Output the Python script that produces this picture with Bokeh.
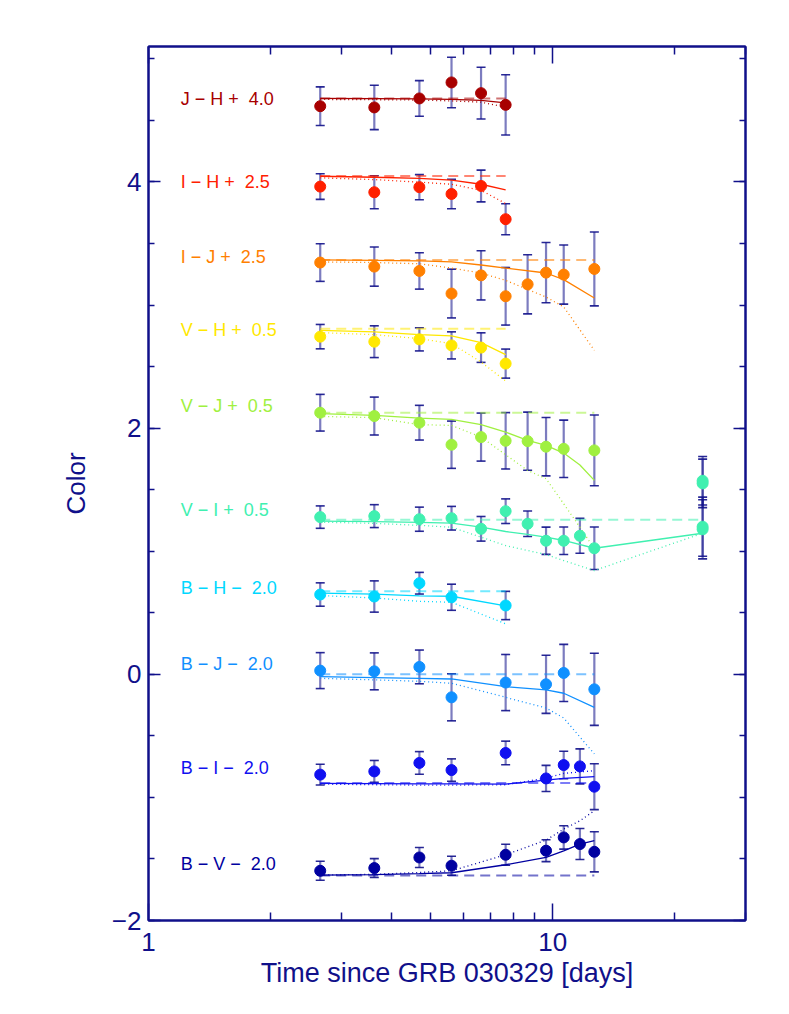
import numpy as np
from bokeh.plotting import figure
from bokeh.models import (Range1d, FixedTicker, LogAxis, LinearAxis, Whisker, TeeHead,
                          ColumnDataSource, CustomJSTickFormatter)
from bokeh.core.properties import value
from bokeh.embed import file_html
from bokeh.resources import INLINE

# ---------------- data (days since GRB 030329, colour indices) ----------------
# J - H + 4.0
jh_t = [2.66, 3.62, 4.68, 5.62, 6.65, 7.65]
jh_v = [4.615, 4.605, 4.678, 4.808, 4.721, 4.626]
jh_e = [0.157, 0.180, 0.145, 0.205, 0.210, 0.245]
jh_mt = [2.66, 3.62, 4.68, 5.62, 6.65, 7.65]
jh_solid = [4.678, 4.677, 4.675, 4.670, 4.662, 4.642]
jh_dot = [4.670, 4.668, 4.665, 4.658, 4.648, 4.607]
jh_const = 4.678

# I - H + 2.5
ih_t = [2.66, 3.62, 4.68, 5.62, 6.65, 7.65]
ih_v = [3.962, 3.916, 3.957, 3.902, 3.967, 3.697]
ih_e = [0.104, 0.134, 0.102, 0.120, 0.129, 0.126]
ih_mt = [2.66, 3.62, 4.68, 5.62, 6.65, 7.65]
ih_solid = [4.046, 4.038, 4.028, 4.014, 3.981, 3.935]
ih_dot = [4.033, 4.019, 3.998, 3.981, 3.932, 3.824]
ih_const = 4.049

# I - J + 2.5
ij_t = [2.66, 3.62, 4.68, 5.62, 6.65, 7.65, 8.67, 9.63, 10.65, 12.68]
ij_v = [3.345, 3.312, 3.277, 3.093, 3.241, 3.071, 3.168, 3.263, 3.247, 3.293]
ij_e = [0.153, 0.159, 0.148, 0.198, 0.200, 0.234, 0.240, 0.245, 0.240, 0.300]
ij_mt = [2.66, 3.62, 4.68, 5.62, 6.65, 7.65, 9.63, 10.65, 12.68]
ij_solid = [3.366, 3.363, 3.358, 3.350, 3.325, 3.300, 3.260, 3.206, 3.057]
ij_dot = [3.350, 3.345, 3.335, 3.300, 3.260, 3.200, 3.065, 2.984, 2.632]
ij_const = 3.366

# V - H + 0.5
vh_t = [2.66, 3.62, 4.68, 5.62, 6.65, 7.65]
vh_v = [2.743, 2.702, 2.721, 2.672, 2.654, 2.524]
vh_e = [0.099, 0.129, 0.094, 0.110, 0.120, 0.118]
vh_mt = [2.66, 3.62, 4.68, 5.62, 6.65, 7.65]
vh_solid = [2.794, 2.781, 2.759, 2.750, 2.694, 2.597]
vh_dot = [2.776, 2.759, 2.727, 2.686, 2.537, 2.382]
vh_const = 2.808

# V - J + 0.5
vj_t = [2.66, 3.62, 4.68, 5.62, 6.65, 7.65, 8.67, 9.63, 10.65, 12.68]
vj_v = [2.125, 2.098, 2.044, 1.865, 1.927, 1.897, 1.894, 1.849, 1.832, 1.819]
vj_e = [0.149, 0.154, 0.141, 0.192, 0.195, 0.229, 0.236, 0.237, 0.233, 0.287]
vj_mt = [2.66, 3.62, 4.68, 5.62, 6.65, 7.65, 8.67, 9.63, 10.65, 11.68, 12.68]
vj_solid = [2.117, 2.103, 2.081, 2.071, 2.028, 1.967, 1.900, 1.859, 1.797, 1.700, 1.575]
vj_dot = [2.095, 2.085, 2.028, 2.022, 1.927, 1.784, 1.656, 1.589, 1.385, 1.195, 1.020]
vj_const = 2.125

# V - I + 0.5
vi_t = [2.66, 3.62, 4.68, 5.62, 6.65, 7.65, 8.67, 9.63, 10.65, 11.68, 12.68, 23.5, 23.5, 23.5, 23.5]
vi_v = [1.277, 1.285, 1.260, 1.268, 1.182, 1.325, 1.223, 1.085, 1.085, 1.125, 1.024,
        1.572, 1.551, 1.199, 1.178]
vi_e = [0.091, 0.093, 0.098, 0.096, 0.100, 0.100, 0.104, 0.111, 0.112, 0.142, 0.173,
        0.197, 0.197, 0.240, 0.240]
vi_mt = [2.66, 3.62, 4.68, 5.62, 6.65, 7.65, 8.67, 9.63, 10.65, 12.68, 23.5]
vi_solid = [1.244, 1.240, 1.235, 1.228, 1.195, 1.160, 1.136, 1.114, 1.087, 1.024, 1.146]
vi_dot = [1.236, 1.226, 1.210, 1.195, 1.114, 1.046, 1.006, 0.973, 0.924, 0.843, 1.146]
vi_const = 1.255

# B - H - 2.0
bh_t = [2.66, 3.62, 4.68, 5.62, 7.65]
bh_v = [0.648, 0.632, 0.740, 0.626, 0.559]
bh_e = [0.095, 0.127, 0.088, 0.106, 0.115]
bh_mt = [2.66, 3.62, 4.68, 5.62, 7.65]
bh_solid = [0.659, 0.652, 0.637, 0.634, 0.556]
bh_dot = [0.640, 0.620, 0.593, 0.585, 0.410]
bh_const = 0.675

# B - J - 2.0
bj_t = [2.66, 3.62, 4.68, 5.62, 7.65, 9.63, 10.65, 12.68]
bj_v = [0.030, 0.024, 0.060, -0.187, -0.067, -0.081, 0.011, -0.122]
bj_e = [0.146, 0.150, 0.137, 0.191, 0.228, 0.236, 0.232, 0.293]
bj_mt = [2.66, 3.62, 4.68, 5.62, 7.65, 9.63, 10.65, 12.68]
bj_solid = [-0.019, -0.027, -0.033, -0.038, -0.100, -0.127, -0.154, -0.268]
bj_dot = [-0.033, -0.045, -0.057, -0.073, -0.187, -0.273, -0.355, -0.647]
bj_const = 0.0

# B - I - 2.0
bi_t = [2.66, 3.62, 4.68, 5.62, 7.65, 9.63, 10.65, 11.68, 12.68]
bi_v = [-0.815, -0.789, -0.720, -0.778, -0.639, -0.846, -0.737, -0.748, -0.913]
bi_e = [0.084, 0.089, 0.092, 0.091, 0.096, 0.106, 0.112, 0.142, 0.186]
bi_mt = [2.66, 3.62, 4.68, 5.62, 7.65, 9.63, 10.65, 12.68]
bi_solid = [-0.886, -0.888, -0.890, -0.890, -0.892, -0.859, -0.846, -0.832]
bi_dot = [-0.892, -0.897, -0.900, -0.900, -0.897, -0.843, -0.805, -0.783]
bi_const = -0.882

# B - V - 2.0
bv_t = [2.66, 3.62, 4.68, 5.62, 7.65, 9.63, 10.65, 11.68, 12.68]
bv_v = [-1.596, -1.574, -1.488, -1.555, -1.466, -1.433, -1.325, -1.379, -1.442]
bv_e = [0.077, 0.077, 0.081, 0.077, 0.085, 0.089, 0.095, 0.126, 0.163]
bv_mt = [2.66, 3.62, 4.68, 5.62, 7.65, 9.63, 10.65, 11.68, 12.68]
bv_solid = [-1.631, -1.628, -1.620, -1.612, -1.547, -1.488, -1.435, -1.379, -1.352]
bv_dot = [-1.631, -1.625, -1.610, -1.596, -1.466, -1.347, -1.257, -1.190, -1.108]
bv_const = -1.634

NB = "\u00a0"
MN = "\u2212"
labels = [f"J {MN} H +{NB} 4.0", f"I {MN} H +{NB} 2.5", f"I {MN} J +{NB} 2.5", f"V {MN} H +{NB} 0.5",
          f"V {MN} J +{NB} 0.5", f"V {MN} I +{NB} 0.5", f"B {MN} H {MN}{NB} 2.0", f"B {MN} J {MN}{NB} 2.0",
          f"B {MN} I {MN}{NB} 2.0", f"B {MN} V {MN}{NB} 2.0"]
label_y = [4.671, 4.0, 3.39, 2.794, 2.179, 1.331, 0.699, 0.085, -0.761, -1.541]
label_x = 1.202

y_major = [-2, 0, 2, 4]
x_major = [1, 10]

# ---------------- styles ----------------
colors = ["#a80000", "#ff2000", "#ff8000", "#ffe800", "#a0f040",
          "#40f0b0", "#00d8ff", "#1090ff", "#1010f0", "#0000a0"]
NAVY = "#10108a"
FONT = "Liberation Sans"

series = [
    (jh_t, jh_v, jh_e, jh_mt, jh_solid, jh_dot, jh_const),
    (ih_t, ih_v, ih_e, ih_mt, ih_solid, ih_dot, ih_const),
    (ij_t, ij_v, ij_e, ij_mt, ij_solid, ij_dot, ij_const),
    (vh_t, vh_v, vh_e, vh_mt, vh_solid, vh_dot, vh_const),
    (vj_t, vj_v, vj_e, vj_mt, vj_solid, vj_dot, vj_const),
    (vi_t, vi_v, vi_e, vi_mt, vi_solid, vi_dot, vi_const),
    (bh_t, bh_v, bh_e, bh_mt, bh_solid, bh_dot, bh_const),
    (bj_t, bj_v, bj_e, bj_mt, bj_solid, bj_dot, bj_const),
    (bi_t, bi_v, bi_e, bi_mt, bi_solid, bi_dot, bi_const),
    (bv_t, bv_v, bv_e, bv_mt, bv_solid, bv_dot, bv_const),
]

p = figure(width=778, height=1003, x_axis_type="log",
           x_range=Range1d(1, 30), y_range=Range1d(-2, 5.1),
           output_backend="svg", toolbar_location=None,
           min_border_left=148, min_border_right=33,
           min_border_top=46, min_border_bottom=83)
p.background_fill_color = "white"
p.border_fill_color = "white"
p.outline_line_color = NAVY
p.outline_line_width = 2
p.xgrid.visible = False
p.ygrid.visible = False

x_minor = [2, 3, 4, 5, 6, 7, 8, 9, 20, 30]
y_minor = list(np.arange(-2.0, 5.01, 0.5))
xt = FixedTicker(ticks=x_major, minor_ticks=x_minor)
yt = FixedTicker(ticks=y_major, minor_ticks=y_minor)

def style_axis(ax, major_len, minor_len):
    ax.axis_line_color = NAVY
    ax.axis_line_width = 2
    ax.major_tick_line_color = NAVY
    ax.minor_tick_line_color = NAVY
    ax.major_tick_line_width = 1.5
    ax.minor_tick_line_width = 1.5
    ax.major_tick_in = major_len
    ax.major_tick_out = 0
    ax.minor_tick_in = minor_len
    ax.minor_tick_out = 0
    ax.major_label_text_color = NAVY
    ax.major_label_text_font = FONT
    ax.major_label_text_font_size = "26px"
    ax.axis_label_text_color = NAVY
    ax.axis_label_text_font = FONT
    ax.axis_label_text_font_size = "26px"
    ax.axis_label_text_font_style = "normal"

xa = p.xaxis[0]
xa.ticker = xt
style_axis(xa, 17, 8)
xa.major_label_overrides = {1: "1", 10: "10"}
xa.major_label_standoff = 12
xa.axis_label = "Time since GRB 030329 [days]"
xa.axis_label_text_font_size = "27px"
xa.axis_label_standoff = 4

ya = p.yaxis[0]
ya.ticker = yt
style_axis(ya, 12, 6)
ya.major_label_overrides = {-2: "\u22122", 0: "0", 2: "2", 4: "4"}
ya.major_label_standoff = 7
ya.axis_label = "Color"
ya.axis_label_standoff = 18

blank = CustomJSTickFormatter(code="return ''")
top = LogAxis(ticker=xt, formatter=blank)
style_axis(top, 17, 8)
top.major_label_standoff = 0
p.add_layout(top, "above")
right = LinearAxis(ticker=yt, formatter=blank)
style_axis(right, 12, 6)
right.major_label_standoff = 0
p.add_layout(right, "right")

# model curves
for (t, v, e, mt, solid, dot, const), c in zip(series, colors):
    p.line(x=[mt[0], mt[-1]], y=[const, const], line_color=c, line_alpha=0.55,
           line_width=2, line_dash="10 6")
    p.line(x=mt, y=solid, line_color=c, line_width=1.3)
    p.line(x=mt, y=dot, line_color=c, line_width=1.3, line_dash="1 3")

# data points
for (t, v, e, mt, solid, dot, const), c in zip(series, colors):
    p.scatter(x=t, y=v, size=11, marker="circle", fill_color=c, line_color=c)

# error bars
all_t, all_lo, all_hi = [], [], []
for (t, v, e, mt, solid, dot, const) in series:
    for ti, vi, ei in zip(t, v, e):
        all_t.append(ti)
        all_lo.append(vi - ei)
        all_hi.append(vi + ei)
esrc = ColumnDataSource(data=dict(base=all_t, lower=all_lo, upper=all_hi))
w = Whisker(source=esrc, base="base", lower="lower", upper="upper", dimension="height",
            line_color=NAVY, line_alpha=0.55, line_width=2.2,
            upper_head=TeeHead(size=9, line_color=NAVY, line_width=1.6, line_alpha=0.9),
            lower_head=TeeHead(size=9, line_color=NAVY, line_width=1.6, line_alpha=0.9))
p.add_layout(w)

# series labels
lsrc = ColumnDataSource(data=dict(x=[label_x] * len(labels), y=label_y, text=labels, c=colors))
p.text(x="x", y="y", text="text", source=lsrc, text_color="c",
       text_font=value(FONT), text_font_size=value("18px"),
       text_baseline="middle", text_align="left")

open("out.html", "w").write(file_html(p, INLINE))
